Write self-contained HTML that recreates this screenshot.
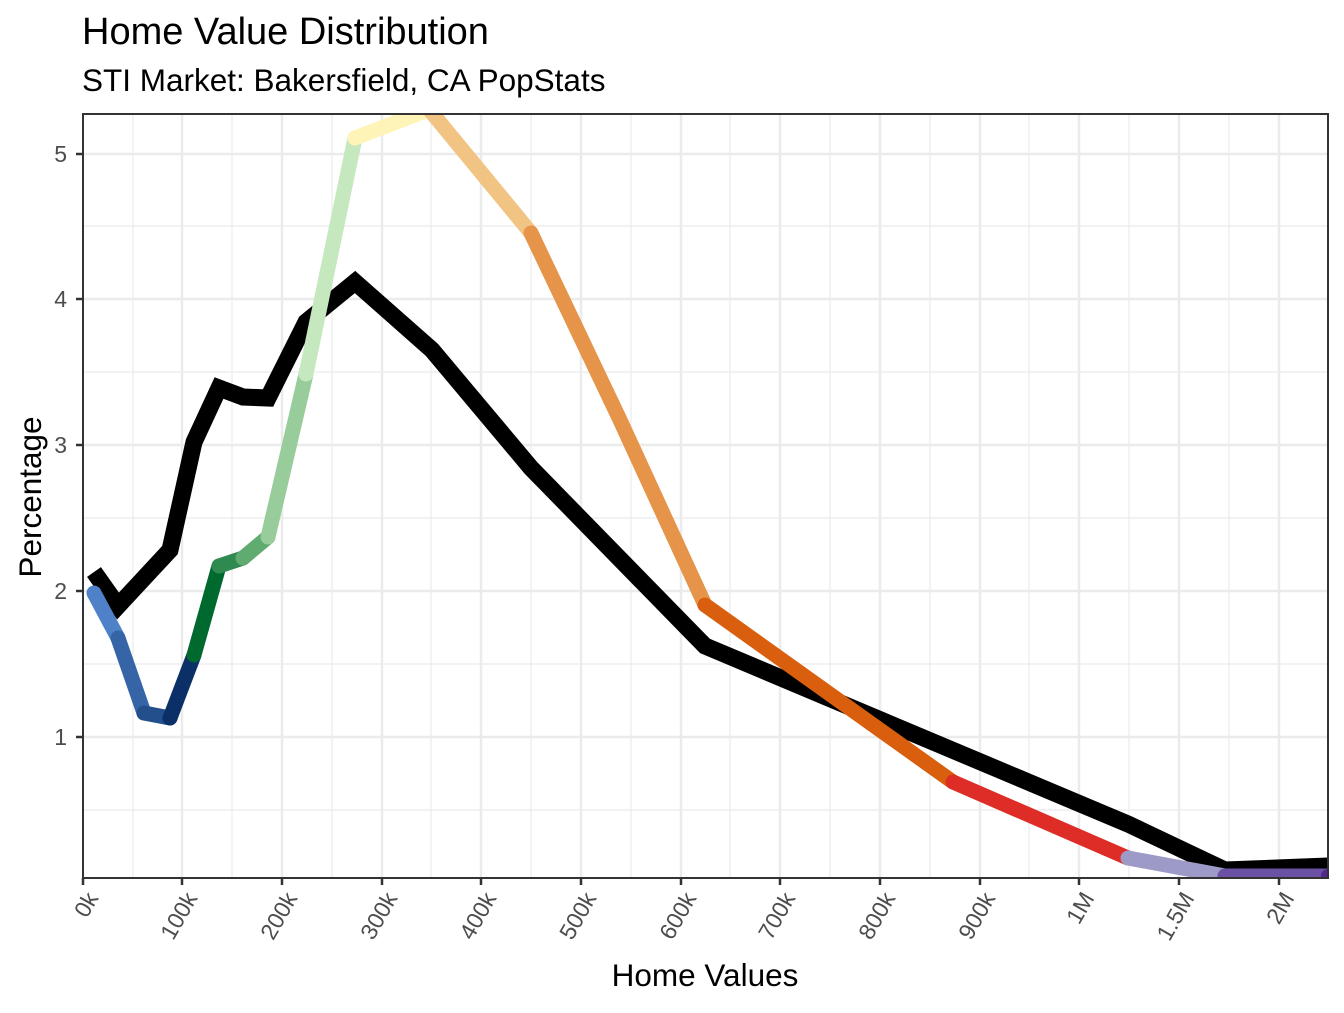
<!DOCTYPE html>
<html><head><meta charset="utf-8"><style>
html,body{margin:0;padding:0;background:#fff;}
text{font-family:"Liberation Sans",Arial,sans-serif;}
</style></head><body>
<svg width="1344" height="1008" viewBox="0 0 1344 1008" xmlns="http://www.w3.org/2000/svg">
<defs><clipPath id="c"><rect x="83" y="114" width="1245" height="764"/></clipPath></defs>
<rect width="1344" height="1008" fill="#fff"/>
<text x="82" y="44" font-size="38" fill="#000">Home Value Distribution</text>
<text x="82" y="91" font-size="31.5" fill="#000">STI Market: Bakersfield, CA PopStats</text>
<g stroke="#ebebeb">
<g stroke-width="1.2">
<line x1="83" x2="1328" y1="226" y2="226"/><line x1="83" x2="1328" y1="372" y2="372"/><line x1="83" x2="1328" y1="518" y2="518"/><line x1="83" x2="1328" y1="664" y2="664"/><line x1="83" x2="1328" y1="810" y2="810"/>
<line y1="114" y2="878" x1="133" x2="133"/><line y1="114" y2="878" x1="232" x2="232"/><line y1="114" y2="878" x1="332" x2="332"/><line y1="114" y2="878" x1="431" x2="431"/><line y1="114" y2="878" x1="531" x2="531"/><line y1="114" y2="878" x1="631" x2="631"/><line y1="114" y2="878" x1="730" x2="730"/><line y1="114" y2="878" x1="830" x2="830"/><line y1="114" y2="878" x1="930" x2="930"/><line y1="114" y2="878" x1="1029" x2="1029"/><line y1="114" y2="878" x1="1129" x2="1129"/><line y1="114" y2="878" x1="1229" x2="1229"/>
</g>
<g stroke-width="2.5">
<line x1="83" x2="1328" y1="154" y2="154"/><line x1="83" x2="1328" y1="299" y2="299"/><line x1="83" x2="1328" y1="445" y2="445"/><line x1="83" x2="1328" y1="591" y2="591"/><line x1="83" x2="1328" y1="737" y2="737"/>
<line y1="114" y2="878" x1="182" x2="182"/><line y1="114" y2="878" x1="282" x2="282"/><line y1="114" y2="878" x1="382" x2="382"/><line y1="114" y2="878" x1="481" x2="481"/><line y1="114" y2="878" x1="581" x2="581"/><line y1="114" y2="878" x1="681" x2="681"/><line y1="114" y2="878" x1="780" x2="780"/><line y1="114" y2="878" x1="880" x2="880"/><line y1="114" y2="878" x1="980" x2="980"/><line y1="114" y2="878" x1="1079" x2="1079"/><line y1="114" y2="878" x1="1179" x2="1179"/><line y1="114" y2="878" x1="1279" x2="1279"/>
</g></g>
<g clip-path="url(#c)">
<polyline fill="none" stroke="#000" stroke-width="17" stroke-linejoin="miter" points="94,572 118,606 170,550 194,442 219,388 243,397 268,398 306,322 355,282 432,350 531,468 705,646 1128,824 1225,870 1328,866"/>
<g fill="none" stroke-width="15" stroke-linecap="round">
<line x1="94" y1="593" x2="118" y2="638" stroke="#4f81c8"/>
<line x1="118" y1="638" x2="144" y2="713" stroke="#3565a7"/>
<line x1="144" y1="713" x2="170" y2="718" stroke="#234f8c"/>
<line x1="170" y1="718" x2="194" y2="655" stroke="#0b3068"/>
<line x1="194" y1="655" x2="219" y2="566" stroke="#006a2e"/>
<line x1="219" y1="566" x2="243" y2="558" stroke="#2e8a50"/>
<line x1="243" y1="558" x2="268" y2="537" stroke="#5fab70"/>
<line x1="268" y1="537" x2="306" y2="374" stroke="#98cc9a"/>
<line x1="306" y1="374" x2="355" y2="138" stroke="#c6e8bf"/>
<line x1="355" y1="138" x2="428" y2="110" stroke="#fff4b8"/>
<line x1="428" y1="108" x2="531" y2="233" stroke="#f2c483"/>
<polyline points="531,233 620,420 705,605" stroke="#e6944a"/>
<line x1="705" y1="605" x2="953" y2="782" stroke="#d95f0e"/>
<line x1="953" y1="782" x2="1128" y2="858" stroke="#de2d26"/>
<line x1="1128" y1="858" x2="1225" y2="876" stroke="#9e9ac8"/>
<line x1="1225" y1="876" x2="1328" y2="876" stroke="#6a51a3"/>
</g>
<circle cx="1328" cy="876" r="7" fill="#54278f"/>
</g>
<rect x="83" y="114" width="1245" height="764" fill="none" stroke="#333" stroke-width="2"/>
<g stroke="#333" stroke-width="2.5">
<line x1="76" x2="83" y1="154" y2="154"/><line x1="76" x2="83" y1="299" y2="299"/><line x1="76" x2="83" y1="445" y2="445"/><line x1="76" x2="83" y1="591" y2="591"/><line x1="76" x2="83" y1="737" y2="737"/>
<line y1="878" y2="885" x1="83" x2="83"/><line y1="878" y2="885" x1="182" x2="182"/><line y1="878" y2="885" x1="282" x2="282"/><line y1="878" y2="885" x1="382" x2="382"/><line y1="878" y2="885" x1="481" x2="481"/><line y1="878" y2="885" x1="581" x2="581"/><line y1="878" y2="885" x1="681" x2="681"/><line y1="878" y2="885" x1="780" x2="780"/><line y1="878" y2="885" x1="880" x2="880"/><line y1="878" y2="885" x1="980" x2="980"/><line y1="878" y2="885" x1="1079" x2="1079"/><line y1="878" y2="885" x1="1179" x2="1179"/><line y1="878" y2="885" x1="1279" x2="1279"/>
</g>
<g font-size="23" fill="#4d4d4d" text-anchor="end">
<text x="67" y="162">5</text><text x="67" y="307">4</text><text x="67" y="453">3</text><text x="67" y="599">2</text><text x="67" y="745">1</text>
<text transform="translate(99,898) rotate(-60)">0k</text>
<text transform="translate(198,898) rotate(-60)">100k</text>
<text transform="translate(298,898) rotate(-60)">200k</text>
<text transform="translate(398,898) rotate(-60)">300k</text>
<text transform="translate(497,898) rotate(-60)">400k</text>
<text transform="translate(597,898) rotate(-60)">500k</text>
<text transform="translate(697,898) rotate(-60)">600k</text>
<text transform="translate(796,898) rotate(-60)">700k</text>
<text transform="translate(896,898) rotate(-60)">800k</text>
<text transform="translate(996,898) rotate(-60)">900k</text>
<text transform="translate(1095,898) rotate(-60)">1M</text>
<text transform="translate(1195,898) rotate(-60)">1.5M</text>
<text transform="translate(1295,898) rotate(-60)">2M</text>
</g>
<text x="705" y="986" font-size="31.5" text-anchor="middle" fill="#000">Home Values</text>
<text transform="translate(41,497) rotate(-90)" font-size="31.5" text-anchor="middle" fill="#000">Percentage</text>
</svg>
</body></html>
